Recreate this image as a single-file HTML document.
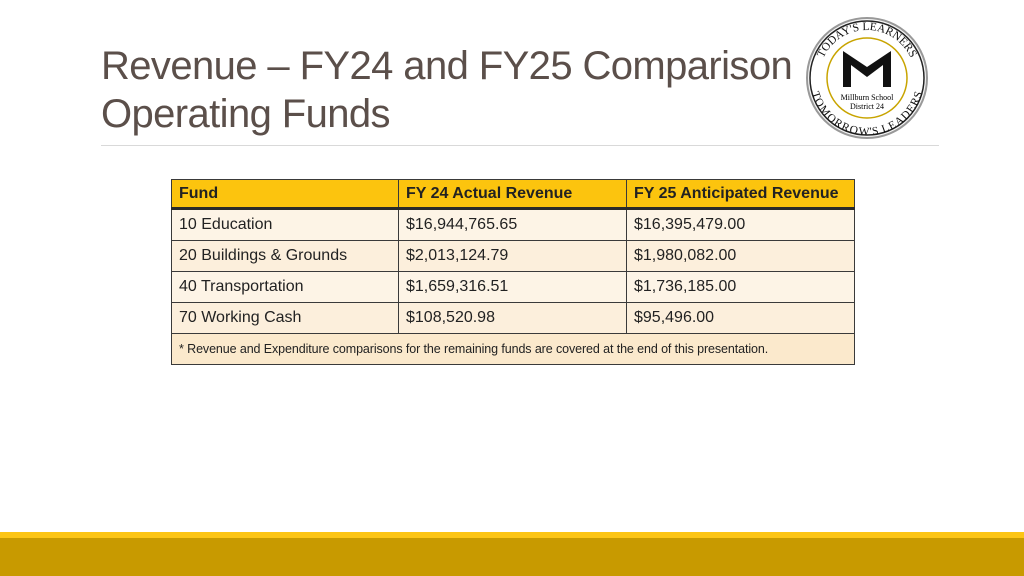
<!DOCTYPE html>
<html><head><meta charset="utf-8"><style>
body{margin:0;width:1024px;height:576px;background:#fff;position:relative;overflow:hidden;font-family:"Liberation Sans",sans-serif}
.title{position:absolute;left:101px;top:42px;font-size:40px;line-height:48px;color:#5b4f4a;letter-spacing:-0.6px;margin:0;font-weight:normal}
.rule{position:absolute;left:101px;top:145px;width:838px;height:1px;background:#d9d9d9}
table{position:absolute;left:171px;top:179px;width:683px;border-collapse:collapse;font-size:16px;color:#222;table-layout:fixed}
td,th{border:1px solid #3a3a3a;height:30px;padding:0 7px;text-align:left;white-space:nowrap;overflow:hidden}
th{background:#fcc40e;font-weight:bold;border-bottom:3px solid #2a2a2a;height:27px}
tr.a td{background:#fdf4e6}
tr.b td{background:#fcefdc}
td.note{font-size:12.5px;background:#fbe9cc!important;letter-spacing:-0.1px}
.band1{position:absolute;left:0;top:532px;width:1024px;height:6px;background:#fcc515}
.band2{position:absolute;left:0;top:538px;width:1024px;height:38px;background:#c89a00}
</style></head><body>
<h1 class="title">Revenue – FY24 and FY25 Comparison<br>Operating Funds</h1>
<div class="rule"></div>
<svg style="position:absolute;left:805px;top:15px" width="125" height="125" viewBox="0 0 125 125">
<circle cx="62" cy="63" r="60" fill="#f4f4f4" stroke="#999" stroke-width="2"/>
<circle cx="62" cy="63" r="57" fill="#fff" stroke="#222" stroke-width="1.5"/>
<circle cx="62" cy="63" r="40" fill="#fff" stroke="#c8a400" stroke-width="1.5"/>
<defs><path id="ta" d="M14,63 A48,48 0 0 1 110,63"/><path id="tb" d="M12,63 A50,50 0 0 0 112,63"/></defs>
<text font-family="Liberation Serif,serif" font-size="11.5" fill="#111"><textPath href="#ta" startOffset="50%" text-anchor="middle">TODAY'S LEARNERS</textPath></text>
<text font-family="Liberation Serif,serif" font-size="11.5" fill="#111"><textPath href="#tb" startOffset="50%" text-anchor="middle" dominant-baseline="hanging">TOMORROW'S LEADERS</textPath></text>
<path d="M38,72 V36 L62,52 L86,36 V72 H78 V50 L62,62 L46,50 V72 Z" fill="#111"/>
<text x="62" y="85" font-family="Liberation Serif,serif" font-size="8" text-anchor="middle">Millburn School</text>
<text x="62" y="94" font-family="Liberation Serif,serif" font-size="8" text-anchor="middle">District 24</text>
</svg>
<table>
<colgroup><col style="width:227px"><col style="width:228px"><col style="width:228px"></colgroup>
<tr><th>Fund</th><th>FY 24 Actual Revenue</th><th>FY 25 Anticipated Revenue</th></tr>
<tr class="a"><td>10 Education</td><td>$16,944,765.65</td><td>$16,395,479.00</td></tr>
<tr class="b"><td>20 Buildings &amp; Grounds</td><td>$2,013,124.79</td><td>$1,980,082.00</td></tr>
<tr class="a"><td>40 Transportation</td><td>$1,659,316.51</td><td>$1,736,185.00</td></tr>
<tr class="b"><td>70 Working Cash</td><td>$108,520.98</td><td>$95,496.00</td></tr>
<tr><td colspan="3" class="note">* Revenue and Expenditure comparisons for the remaining funds are covered at the end of this presentation.</td></tr>
</table>
<div class="band1"></div>
<div class="band2"></div>
</body></html>
